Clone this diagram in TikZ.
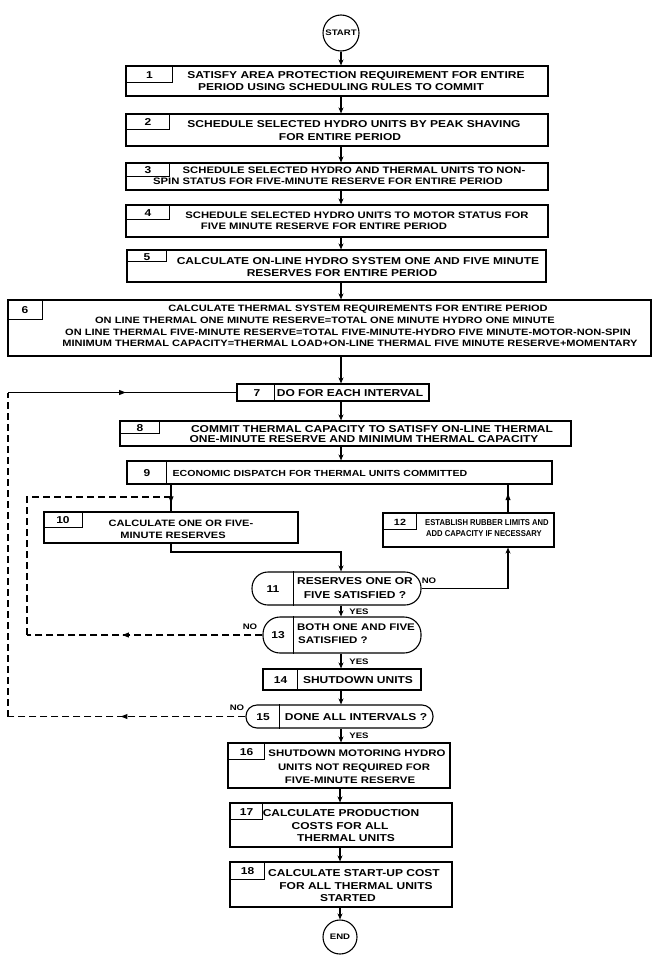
\documentclass[tikz,border=0pt]{standalone}
\usepackage{fontspec}
\newfontfamily\letr{Liberation Sans}[FakeStretch=1.2]
\newfontfamily\letc{Liberation Sans}[FakeStretch=0.9]
\usetikzlibrary{arrows.meta,decorations.markings}
\tikzset{
  x=1pt, y=-1pt,
  ln/.style={line width=1.1pt},
  box/.style={draw, line width=1.1pt, inner sep=0pt, rectangle},
  dec/.style={draw, line width=1.1pt, inner sep=0pt, rectangle, rounded corners=#1},
  term/.style={draw, line width=1.1pt, circle, inner sep=0pt, minimum size=#1,
     font={\letr\bfseries\fontsize{8}{9}\selectfont}},
  tx/.style={inner sep=0pt, text height=7.2pt, text depth=0pt,
     font={\letr\bfseries\fontsize{#1}{12}\selectfont}},
  tx/.default=10,
  tc/.style={inner sep=0pt, text height=6.5pt, text depth=0pt,
     font={\letc\bfseries\fontsize{#1}{10}\selectfont}},
  tc/.default=8.5,
  lab/.style={inner sep=0pt, text height=5.8pt, text depth=0pt,
     font={\letr\bfseries\fontsize{8}{9}\selectfont}},
  conn/.style={line width=1.1pt, -{Stealth[length=6pt,width=5pt]}},
  loopd/.style={line width=1.1pt, dash pattern=on 7pt off 4pt},
  midarrow/.style={postaction={decorate}, decoration={markings,
     mark=at position #1 with {\fill (3.5pt,0pt) -- (-3pt,2.6pt) -- (-3pt,-2.6pt) -- cycle;}}}
}
\begin{document}
\begin{tikzpicture}
\path[fill=white] (0,0) rectangle (654,955);
\useasboundingbox (0,0) rectangle (654,955);

% terminals
\node[term=36pt] (start) at (341,33) {START};
\node[term=34pt] (end) at (340,937) {END};

% process boxes
\node[box, minimum width=422pt, minimum height=30pt] (b1) at (337,81) {};
\node[box, minimum width=422pt, minimum height=32pt] (b2) at (337,130) {};
\node[box, minimum width=422pt, minimum height=27pt] (b3) at (337,176.5) {};
\node[box, minimum width=422pt, minimum height=32pt] (b4) at (337,221) {};
\node[box, minimum width=419pt, minimum height=32pt] (b5) at (336.5,266) {};
\node[box, minimum width=643pt, minimum height=56pt] (b6) at (329.5,328) {};
\node[box, minimum width=192pt, minimum height=17pt] (b7) at (333,392.5) {};
\node[box, minimum width=451pt, minimum height=25pt] (b8) at (345.5,433.5) {};
\node[box, minimum width=425pt, minimum height=23pt] (b9) at (339.5,472.5) {};
\node[box, minimum width=254pt, minimum height=31pt] (b10) at (171,527.5) {};
\node[box, minimum width=171pt, minimum height=34pt] (b12) at (468.5,530) {};
\node[dec=16pt, minimum width=169pt, minimum height=33pt] (d11) at (336.5,588.5) {};
\node[dec=17pt, minimum width=158pt, minimum height=36pt] (d13) at (342,635) {};
\node[box, minimum width=158pt, minimum height=21pt] (b14) at (342,679.5) {};
\node[dec=11pt, minimum width=187pt, minimum height=23pt] (d15) at (339.5,716.5) {};
\node[box, minimum width=222pt, minimum height=45pt] (b16) at (339,765.5) {};
\node[box, minimum width=222pt, minimum height=44pt] (b17) at (341,825) {};
\node[box, minimum width=222pt, minimum height=45pt] (b18) at (341,884.5) {};

% number compartments
\draw[ln] ([xshift=47pt]b1.north west) |- ([yshift=-17pt]b1.north west);
\draw[ln] ([xshift=44pt]b2.north west) |- ([yshift=-16pt]b2.north west);
\draw[ln] ([xshift=44pt]b3.north west) |- ([yshift=-14pt]b3.north west);
\draw[ln] ([xshift=44pt]b4.north west) |- ([yshift=-15pt]b4.north west);
\draw[ln] ([xshift=40pt]b5.north west) |- ([yshift=-12pt]b5.north west);
\draw[ln] ([xshift=35pt]b6.north west) |- ([yshift=-20pt]b6.north west);
\draw[ln] ([xshift=38pt]b7.north west) -- ([xshift=38pt]b7.south west);
\draw[ln] ([xshift=40pt]b8.north west) |- ([yshift=-13pt]b8.north west);
\draw[ln] ([xshift=40pt]b9.north west) -- ([xshift=40pt]b9.south west);
\draw[ln] ([xshift=39pt]b10.north west) |- ([yshift=-16pt]b10.north west);
\draw[ln] ([xshift=34pt]b12.north west) |- ([yshift=-17pt]b12.north west);
\draw[ln] ([xshift=42pt]d11.north west) -- ([xshift=42pt]d11.south west);
\draw[ln] ([xshift=31pt]d13.north west) -- ([xshift=31pt]d13.south west);
\draw[ln] ([xshift=35pt]b14.north west) -- ([xshift=35pt]b14.south west);
\draw[ln] ([xshift=34pt]d15.north west) -- ([xshift=34pt]d15.south west);
\draw[ln] ([xshift=37pt]b16.north west) |- ([yshift=-17pt]b16.north west);
\draw[ln] ([xshift=33pt]b17.north west) |- ([yshift=-17pt]b17.north west);
\draw[ln] ([xshift=35pt]b18.north west) |- ([yshift=-18pt]b18.north west);

% numbers
\node[tx] (n1) at (149.5,75) {1};
\node[tx] (n2) at (148,122) {2};
\node[tx] (n3) at (148,170) {3};
\node[tx] (n4) at (148,213) {4};
\node[tx] (n5) at (147,257) {5};
\node[tx] (n6) at (25,310) {6};
\node[tx] (n7) at (257,393) {7};
\node[tx] (n8) at (140,428) {8};
\node[tx] (n9) at (147,473) {9};
\node[tx] (n10) at (63,520) {10};
\node[tx=9] (n12) at (400,521.5) {12};
\node[tx] (n11) at (273,588.5) {11};
\node[tx] (n13) at (278,635) {13};
\node[tx] (n14) at (280.5,680) {14};
\node[tx] (n15) at (263,716.5) {15};
\node[tx] (n16) at (246.5,751.5) {16};
\node[tx] (n17) at (246.5,811.5) {17};
\node[tx] (n18) at (247.5,871) {18};

% box texts
\node[tx] (t1a) at (356,75) {SATISFY AREA PROTECTION REQUIREMENT FOR ENTIRE};
\node[tx] (t1b) at (341,87) {PERIOD USING SCHEDULING RULES TO COMMIT};
\node[tx] (t2a) at (354,124) {SCHEDULE SELECTED HYDRO UNITS BY PEAK SHAVING};
\node[tx] (t2b) at (340,137) {FOR ENTIRE PERIOD};
\node[tx=9.4] (t3a) at (354,170) {SCHEDULE SELECTED HYDRO AND THERMAL UNITS TO NON-};
\node[tx=9.4] (t3b) at (328,181) {SPIN STATUS FOR FIVE-MINUTE RESERVE FOR ENTIRE PERIOD};
\node[tx=9.4] (t4a) at (357,215) {SCHEDULE SELECTED HYDRO UNITS TO MOTOR STATUS FOR};
\node[tx=9.4] (t4b) at (324,226) {FIVE MINUTE RESERVE FOR ENTIRE PERIOD};
\node[tx] (t5a) at (358,261) {CALCULATE ON-LINE HYDRO SYSTEM ONE AND FIVE MINUTE};
\node[tx] (t5b) at (342,273) {RESERVES FOR ENTIRE PERIOD};
\node[tx=9.2] (t6a) at (358,308) {CALCULATE THERMAL SYSTEM REQUIREMENTS FOR ENTIRE PERIOD};
\node[tx=9.2] (t6b) at (325,320) {ON LINE THERMAL ONE MINUTE RESERVE=TOTAL ONE MINUTE HYDRO ONE MINUTE};
\node[tx=9.2] (t6c) at (348,331.5) {ON LINE THERMAL FIVE-MINUTE RESERVE=TOTAL FIVE-MINUTE-HYDRO FIVE MINUTE-MOTOR-NON-SPIN};
\node[tx=9.2] (t6d) at (350,343) {MINIMUM THERMAL CAPACITY=THERMAL LOAD+ON-LINE THERMAL FIVE MINUTE RESERVE+MOMENTARY};
\node[tx] (t7) at (350,393) {DO FOR EACH INTERVAL};
\node[tx] (t8a) at (372,428.5) {COMMIT THERMAL CAPACITY TO SATISFY ON-LINE THERMAL};
\node[tx] (t8b) at (364,439) {ONE-MINUTE RESERVE AND MINIMUM THERMAL CAPACITY};
\node[tx=8.8] (t9) at (320,473) {ECONOMIC DISPATCH FOR THERMAL UNITS COMMITTED};
\node[tx=9.2] (t10a) at (181,523) {CALCULATE ONE OR FIVE-};
\node[tx=9.2] (t10b) at (173,535) {MINUTE RESERVES};
\node[tc] (t12a) at (487,522) {ESTABLISH RUBBER LIMITS AND};
\node[tc] (t12b) at (484,533.5) {ADD CAPACITY IF NECESSARY};
\node[tx] (t11a) at (355,580.5) {RESERVES ONE OR};
\node[tx] (t11b) at (355,595) {FIVE SATISFIED ?};
\node[tx=9.6] (t13a) at (356,627) {BOTH ONE AND FIVE};
\node[tx=9.6] (t13b) at (333,639.5) {SATISFIED ?};
\node[tx] (t14) at (358,680) {SHUTDOWN UNITS};
\node[tx] (t15) at (356,716.5) {DONE ALL INTERVALS ?};
\node[tx=9.5] (t16a) at (357,753) {SHUTDOWN MOTORING HYDRO};
\node[tx=9.5] (t16b) at (354,767) {UNITS NOT REQUIRED FOR};
\node[tx=9.5] (t16c) at (350,780) {FIVE-MINUTE RESERVE};
\node[tx] (t17a) at (341,813) {CALCULATE PRODUCTION};
\node[tx] (t17b) at (340,826) {COSTS FOR ALL};
\node[tx] (t17c) at (346,838) {THERMAL UNITS};
\node[tx] (t18a) at (354,873) {CALCULATE START-UP COST};
\node[tx] (t18b) at (356,886) {FOR ALL THERMAL UNITS};
\node[tx] (t18c) at (348,898) {STARTED};

% YES / NO labels
\node[lab] (y11) at (359,612) {YES};
\node[lab] (y13) at (359,662) {YES};
\node[lab] (y15) at (359,735.5) {YES};
\node[lab] (no11) at (429,581) {NO};
\node[lab] (no13) at (250,627) {NO};
\node[lab] (no15) at (237,708) {NO};

% main column connectors
\draw[conn] (start.south) -- (start.south |- b1.north);
\draw[conn] (b1.south -| start) -- (b2.north -| start);
\draw[conn] (b2.south -| start) -- (b3.north -| start);
\draw[conn] (b3.south -| start) -- (b4.north -| start);
\draw[conn] (b4.south -| start) -- (b5.north -| start);
\draw[conn] (b5.south -| start) -- (b6.north -| start);
\draw[conn] (b6.south -| start) -- (b7.north -| start);
\draw[conn] (b7.south -| start) -- (b8.north -| start);
\draw[conn] (b8.south -| start) -- (b9.north -| start);

% inner loop part
\coordinate (j10) at (171,497);
\draw[ln, midarrow=0.55] (b9.south -| j10) -- (b10.north -| j10);
\coordinate (k11) at (341,552);
\draw[conn] (b10.south -| j10) |- (k11) -- (d11.north -| k11);
\coordinate (n11) at (508,588.5);
\draw[conn] (d11.east) -- (n11) -- (b12.south -| n11);
\draw[ln, midarrow=0.55] (b12.north -| n11) -- (b9.south -| n11);
\draw[conn] (d11.south -| start) -- (d13.north -| start);
\coordinate (c13w) at (27,635);
\draw[loopd, midarrow=0.58] (d13.west) -- (c13w);
\draw[loopd] (c13w) -- (c13w |- j10) -- (j10);
\draw[conn] (d13.south -| start) -- (b14.north -| start);
\draw[conn] (b14.south -| start) -- (d15.north -| start);

% outer loop
\coordinate (c15w) at (8,716.5);
\coordinate (c7w) at (8,392.5);
\draw[loopd, midarrow=0.51] (d15.west) -- (c15w);
\draw[loopd] (c15w) -- (c7w);
\draw[ln, midarrow=0.5] (c7w) -- (b7.west);

% lower column
\draw[conn] (d15.south -| start) -- (b16.north -| start);
\draw[conn] (b16.south -| end) -- (b17.north -| end);
\draw[conn] (b17.south -| end) -- (b18.north -| end);
\draw[conn] (b18.south -| end) -- (end.north);
\end{tikzpicture}
\end{document}
